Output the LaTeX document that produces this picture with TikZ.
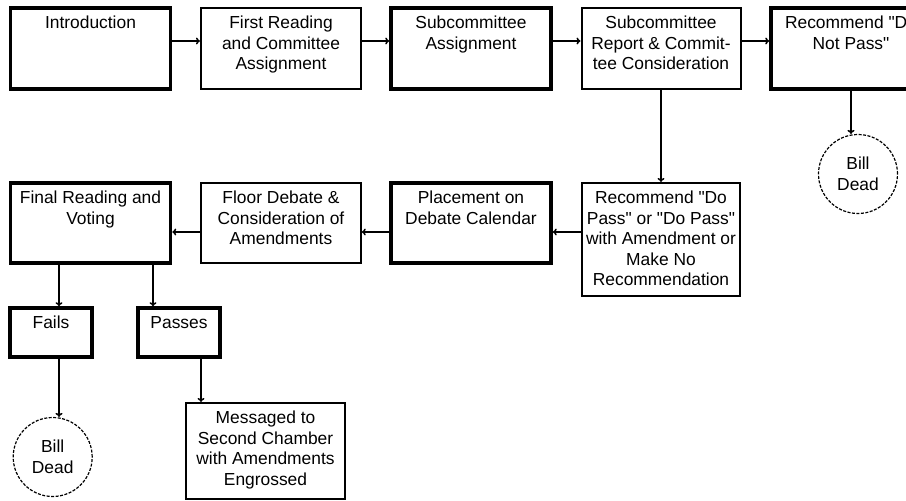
\documentclass[tikz,border=0pt]{standalone}
\usepackage{fontspec}
\setmainfont{Liberation Sans}[Ligatures=TeXOff]
\usetikzlibrary{arrows.meta}

% box contents: width, height, centred lines starting from the top edge
\newcommand{\boxlabel}[3]{\parbox[c][#2][t]{#1}{\centering\rule{0pt}{20.5pt}#3}}
\newcommand{\lblfont}{\fontsize{17.4}{20.5}\selectfont}

\begin{document}
\begin{tikzpicture}[
  x=1pt, y=-1pt,
  stage/.style={draw, rectangle, inner sep=0pt, font=\lblfont},
  heavy/.style={line width=3.5pt},
  medium/.style={line width=2pt},
  light/.style={line width=1.5pt},
  deadend/.style={draw, circle, dash pattern=on 3pt off 1.5pt, line width=1.2pt,
    minimum size=79pt, inner sep=0pt, align=center, font=\lblfont},
  flow/.style={line width=1.5pt, -{To[length=4pt,width=7pt]}}
]
\clip (0,0) rectangle (906,501);
\fill[white] (0,0) rectangle (906,501);

% committee stage
\node[stage, heavy]  (intro)     at (90.5,48.5) {\boxlabel{160pt}{81pt}{Introduction}};
\node[stage, medium] (first)     at (281,48.5)  {\boxlabel{160pt}{81pt}{First Reading\\and Committee\\Assignment}};
\node[stage, heavy]  (subassign) at (471,48.5)  {\boxlabel{160pt}{81pt}{Subcommittee\\Assignment}};
\node[stage, medium] (subreport) at (661,48.5)  {\boxlabel{159pt}{81pt}{Subcommittee\\Report \& Commit-\\tee Consideration}};
\node[stage, heavy]  (dnp)       at (851,48.5)  {\boxlabel{160pt}{81pt}{Recommend "Do\\Not Pass"}};
\node[deadend]       (dead1)     at (858,174)   {Bill\\Dead};

% floor stage
\node[stage, medium] (dopass)    at (661,239.5) {\boxlabel{158pt}{113pt}{Recommend "Do\\Pass" or "Do Pass"\\with Amendment or\\Make No\\Recommendation}};
\node[stage, heavy]  (placement) at (471,223)   {\boxlabel{160pt}{80pt}{Placement on\\Debate Calendar}};
\node[stage, light]  (floor)     at (281,223)   {\boxlabel{160pt}{80pt}{Floor Debate \&\\Consideration of\\Amendments}};
\node[stage, heavy]  (final)     at (90.5,223)  {\boxlabel{160pt}{80pt}{Final Reading and\\Voting}};

% outcomes
\node[stage, heavy]  (falls)     at (51,332.5)  {\boxlabel{82pt}{49pt}{Fails}};
\node[stage, heavy]  (passes)    at (179,332.5) {\boxlabel{82pt}{49pt}{Passes}};
\node[deadend]       (dead2)     at (52.7,457)  {Bill\\Dead};
\node[stage, medium] (messaged)  at (265.5,451) {\boxlabel{159pt}{96pt}{Messaged to\\Second Chamber\\with Amendments\\Engrossed}};

% connector heights and drop points
\coordinate (row1) at (0,41);
\coordinate (row2) at (0,232);
\coordinate (fa) at ([xshift=-31.5pt]final.south);
\coordinate (pa) at ([xshift=62.5pt]final.south);
\coordinate (fd) at ([xshift=8pt]falls.south);
\coordinate (pm) at ([xshift=22pt]passes.south);

\draw[flow] (intro.east |- row1)     -- (first.west |- row1);
\draw[flow] (first.east |- row1)     -- (subassign.west |- row1);
\draw[flow] (subassign.east |- row1) -- (subreport.west |- row1);
\draw[flow] (subreport.east |- row1) -- (dnp.west |- row1);
\draw[flow] (dnp.south) -- (dnp.south |- dead1.north);
\draw[flow] (subreport.south) -- (subreport.south |- dopass.north);

\draw[flow] (dopass.west |- row2)    -- (placement.east |- row2);
\draw[flow] (placement.west |- row2) -- (floor.east |- row2);
\draw[flow] (floor.west |- row2)     -- (final.east |- row2);

\draw[flow] (fa) -- (fa |- falls.north);
\draw[flow] (pa) -- (pa |- passes.north);
\draw[flow] (fd) -- (fd |- dead2.north);
\draw[flow] (pm) -- (pm |- messaged.north);
\end{tikzpicture}
\end{document}
